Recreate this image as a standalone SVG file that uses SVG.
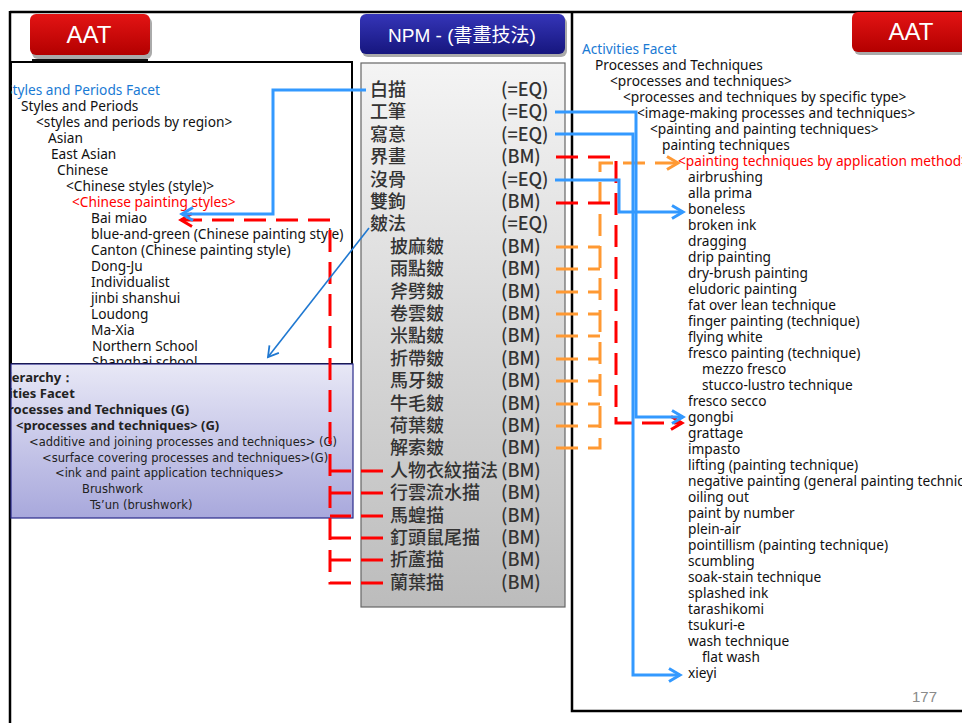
<svg xmlns="http://www.w3.org/2000/svg" width="962" height="723" viewBox="0 0 962 723">
<defs>
<style>
.frame{fill:none;stroke:#000;stroke-width:2.5}
.lt{font-family:"Noto Sans","Open Sans",sans-serif;font-size:13.7px;fill:#111}
.blue{fill:#1a7ad4}
.red{fill:#ff0000}
.pb{font-family:"Noto Sans","Open Sans",sans-serif;font-size:13px;font-weight:bold;fill:#222}
.pn{font-family:"DejaVu Sans",sans-serif;font-size:11.5px;fill:#222}
.npm{font-family:"Noto Sans CJK TC","Noto Sans CJK SC",sans-serif;font-size:18px;font-weight:500;fill:#333}
.btn{font-family:"Liberation Sans","Noto Sans CJK TC",sans-serif;fill:#fff}
.cb{fill:none;stroke:#3399ff;stroke-width:3}
.ct{fill:none;stroke:#1f78d1;stroke-width:1.6}
.cr{fill:none;stroke:#ff0000;stroke-width:3;stroke-dasharray:22 10}
.co{fill:none;stroke:#ff9933;stroke-width:3;stroke-dasharray:22 10}
</style>
<linearGradient id="gRed" x1="0" y1="0" x2="0" y2="1"><stop offset="0" stop-color="#e31414"/><stop offset="1" stop-color="#b30000"/></linearGradient>
<linearGradient id="gBlue" x1="0" y1="0" x2="0" y2="1"><stop offset="0" stop-color="#3535b8"/><stop offset="1" stop-color="#16167e"/></linearGradient>
<linearGradient id="gGray" x1="0" y1="0" x2="0" y2="1"><stop offset="0" stop-color="#f4f4f4"/><stop offset="1" stop-color="#bcbcbc"/></linearGradient>
<linearGradient id="gPur" x1="0" y1="0" x2="0" y2="1"><stop offset="0" stop-color="#e8e8f6"/><stop offset="1" stop-color="#a8a8dc"/></linearGradient>
<clipPath id="clipTop"><rect x="11" y="62" width="341" height="302"/></clipPath>
<clipPath id="clipPur"><rect x="11" y="364" width="342" height="154"/></clipPath>
<marker id="mB" markerUnits="userSpaceOnUse" markerWidth="16" markerHeight="16" refX="13" refY="8" orient="auto" overflow="visible"><path d="M2,1.5 L13,8 L2,14.5" fill="none" stroke="#3399ff" stroke-width="3"/></marker>
<marker id="mR" markerUnits="userSpaceOnUse" markerWidth="16" markerHeight="16" refX="13" refY="8" orient="auto" overflow="visible"><path d="M2,1.5 L13,8 L2,14.5" fill="none" stroke="#ff0000" stroke-width="3"/></marker>
<marker id="mO" markerUnits="userSpaceOnUse" markerWidth="16" markerHeight="16" refX="13" refY="8" orient="auto" overflow="visible"><path d="M2,1.5 L13,8 L2,14.5" fill="none" stroke="#ff9933" stroke-width="3"/></marker>
<marker id="mT" markerUnits="userSpaceOnUse" markerWidth="16" markerHeight="16" refX="12" refY="8" orient="auto" overflow="visible"><path d="M2,2 L12,8 L2,14" fill="none" stroke="#1f78d1" stroke-width="1.8"/></marker>
</defs>
<rect x="0" y="0" width="962" height="723" fill="#fff"/>

<!-- frames -->
<g id="frames">
<line x1="10" y1="12" x2="962" y2="12" stroke="#000" stroke-width="2.5"/>
<line x1="10" y1="11" x2="10" y2="723" stroke="#000" stroke-width="2.5"/>
<path d="M962,711 H572 V12" class="frame"/>
</g>

<!-- left AAT panel -->
<g id="aat-left">
<rect x="11" y="62" width="341" height="302" fill="#fff" stroke="#000" stroke-width="2"/>
<g clip-path="url(#clipTop)">
<g id="sp-facet"><text class="lt blue" x="5" y="95">Styles and Periods Facet</text></g>
<g id="sp"><text class="lt" x="21" y="111">Styles and Periods</text></g>
<g id="sp-region"><text class="lt" x="36" y="127">&lt;styles and periods by region&gt;</text></g>
<g id="asian"><text class="lt" x="48" y="143">Asian</text></g>
<g id="east-asian"><text class="lt" x="51" y="159">East Asian</text></g>
<g id="chinese"><text class="lt" x="57" y="175">Chinese</text></g>
<g id="chinese-styles"><text class="lt" x="66" y="191">&lt;Chinese styles (style)&gt;</text></g>
<g id="chinese-painting-styles"><text class="lt red" x="72" y="207">&lt;Chinese painting styles&gt;</text></g>
<g id="bai-miao"><text class="lt" x="91" y="223">Bai miao</text></g>
<g id="blue-and-green"><text class="lt" x="91" y="239">blue-and-green (Chinese painting style)</text></g>
<g id="canton"><text class="lt" x="91" y="255">Canton (Chinese painting style)</text></g>
<g id="dong-ju"><text class="lt" x="91" y="271">Dong-Ju</text></g>
<g id="individualist"><text class="lt" x="91" y="287">Individualist</text></g>
<g id="jinbi"><text class="lt" x="91" y="303">jinbi shanshui</text></g>
<g id="loudong"><text class="lt" x="91" y="319">Loudong</text></g>
<g id="ma-xia"><text class="lt" x="91" y="335">Ma-Xia</text></g>
<g id="northern"><text class="lt" x="92" y="351">Northern School</text></g>
<g id="shanghai"><text class="lt" x="92" y="367">Shanghai school</text></g>
</g>
</g>

<!-- purple hierarchy box -->
<g id="hierarchy-box">
<rect x="11" y="364" width="342" height="154" fill="url(#gPur)" stroke="#2a2a8a" stroke-width="1.2"/>
<g clip-path="url(#clipPur)">
<text class="pb" x="-2" y="382">Hierarchy：</text>
<text class="pb" x="-24" y="398">Activities Facet</text>
<text class="pb" x="0" y="414">Processes and Techniques (G)</text>
<text class="pb" x="16" y="430">&lt;processes and techniques&gt;  (G)</text>
<text class="pn" x="29" y="446">&lt;additive and joining processes and techniques&gt; (G)</text>
<text class="pn" x="42" y="462">&lt;surface covering processes and techniques&gt;(G)</text>
<text class="pn" x="55" y="477">&lt;ink and paint application techniques&gt;</text>
<text class="pn" x="82" y="493">Brushwork</text>
<text class="pn" x="90" y="509">Ts’un (brushwork)</text>
</g>
</g>

<!-- buttons -->
<g id="btn-aat-left">
<rect x="32" y="17" width="120" height="42" rx="6" fill="#555" opacity="0.5"/>
<rect x="30" y="14" width="120" height="41" rx="6" fill="url(#gRed)"/>
<line x1="32" y1="60" x2="148" y2="60" stroke="#111" stroke-width="2"/>
<text class="btn" x="89" y="43" font-size="24" text-anchor="middle">AAT</text>
</g>
<g id="btn-npm">
<rect x="362" y="17" width="205" height="40" rx="6" fill="#555" opacity="0.5"/>
<rect x="360" y="14" width="205" height="40" rx="6" fill="url(#gBlue)"/>
<text class="btn" x="462" y="42" font-size="19" text-anchor="middle">NPM  - (書畫技法)</text>
</g>
<g id="btn-aat-right">
<rect x="854" y="15" width="120" height="40" rx="6" fill="#555" opacity="0.5"/>
<rect x="852" y="12" width="120" height="40" rx="6" fill="url(#gRed)"/>
<text class="btn" x="911" y="40" font-size="24" text-anchor="middle">AAT</text>
</g>

<!-- NPM list -->
<g id="npm-panel">
<rect x="361" y="63" width="204" height="544" fill="url(#gGray)" stroke="#666" stroke-width="1.2"/>
<g id="n-baimiao"><text class="npm" x="370" y="96">白描</text><text class="npm" x="501" y="96">(=EQ)</text></g>
<g id="n-gongbi"><text class="npm" x="370" y="118.4">工筆</text><text class="npm" x="501" y="118.4">(=EQ)</text></g>
<g id="n-xieyi"><text class="npm" x="370" y="140.8">寫意</text><text class="npm" x="501" y="140.8">(=EQ)</text></g>
<g id="n-jiehua"><text class="npm" x="370" y="163.2">界畫</text><text class="npm" x="501" y="163.2">(BM)</text></g>
<g id="n-mogu"><text class="npm" x="370" y="185.6">沒骨</text><text class="npm" x="501" y="185.6">(=EQ)</text></g>
<g id="n-shuanggou"><text class="npm" x="370" y="208">雙鉤</text><text class="npm" x="501" y="208">(BM)</text></g>
<g id="n-cunfa"><text class="npm" x="370" y="230.4">皴法</text><text class="npm" x="501" y="230.4">(=EQ)</text></g>
<g id="n-c1"><text class="npm" x="390" y="252.8">披麻皴</text><text class="npm" x="501" y="252.8">(BM)</text></g>
<g id="n-c2"><text class="npm" x="390" y="275.2">雨點皴</text><text class="npm" x="501" y="275.2">(BM)</text></g>
<g id="n-c3"><text class="npm" x="390" y="297.6">斧劈皴</text><text class="npm" x="501" y="297.6">(BM)</text></g>
<g id="n-c4"><text class="npm" x="390" y="320">卷雲皴</text><text class="npm" x="501" y="320">(BM)</text></g>
<g id="n-c5"><text class="npm" x="390" y="342.4">米點皴</text><text class="npm" x="501" y="342.4">(BM)</text></g>
<g id="n-c6"><text class="npm" x="390" y="364.8">折帶皴</text><text class="npm" x="501" y="364.8">(BM)</text></g>
<g id="n-c7"><text class="npm" x="390" y="387.2">馬牙皴</text><text class="npm" x="501" y="387.2">(BM)</text></g>
<g id="n-c8"><text class="npm" x="390" y="409.6">牛毛皴</text><text class="npm" x="501" y="409.6">(BM)</text></g>
<g id="n-c9"><text class="npm" x="390" y="432">荷葉皴</text><text class="npm" x="501" y="432">(BM)</text></g>
<g id="n-c10"><text class="npm" x="390" y="454.4">解索皴</text><text class="npm" x="501" y="454.4">(BM)</text></g>
<g id="n-m1"><text class="npm" x="390" y="476.8">人物衣紋描法</text><text class="npm" x="501" y="476.8">(BM)</text></g>
<g id="n-m2"><text class="npm" x="390" y="499.2">行雲流水描</text><text class="npm" x="501" y="499.2">(BM)</text></g>
<g id="n-m3"><text class="npm" x="390" y="521.6">馬蝗描</text><text class="npm" x="501" y="521.6">(BM)</text></g>
<g id="n-m4"><text class="npm" x="390" y="544">釘頭鼠尾描</text><text class="npm" x="501" y="544">(BM)</text></g>
<g id="n-m5"><text class="npm" x="390" y="566.4">折蘆描</text><text class="npm" x="501" y="566.4">(BM)</text></g>
<g id="n-m6"><text class="npm" x="390" y="588.8">蘭葉描</text><text class="npm" x="501" y="588.8">(BM)</text></g>
</g>

<!-- right AAT panel -->
<g id="aat-right">
<g id="r-facet"><text class="lt blue" x="582" y="54">Activities Facet</text></g>
<g id="r-pt"><text class="lt" x="595" y="70">Processes and Techniques</text></g>
<g id="r-pt2"><text class="lt" x="610" y="86">&lt;processes and techniques&gt;</text></g>
<g id="r-spec"><text class="lt" x="623" y="102">&lt;processes and techniques by specific type&gt;</text></g>
<g id="r-img"><text class="lt" x="637" y="118">&lt;image-making processes and techniques&gt;</text></g>
<g id="r-paint"><text class="lt" x="650" y="134">&lt;painting and painting techniques&gt;</text></g>
<g id="r-ptech"><text class="lt" x="662" y="150">painting techniques</text></g>
<g id="r-appl"><text class="lt red" x="678" y="166">&lt;painting techniques by application method&gt;</text></g>
<g id="r-items">
<text class="lt" x="688" y="182">airbrushing</text>
<text class="lt" x="688" y="198">alla prima</text>
<text id="r-boneless" class="lt" x="688" y="214">boneless</text>
<text class="lt" x="688" y="230">broken ink</text>
<text class="lt" x="688" y="246">dragging</text>
<text class="lt" x="688" y="262">drip painting</text>
<text class="lt" x="688" y="278">dry-brush painting</text>
<text class="lt" x="688" y="294">eludoric painting</text>
<text class="lt" x="688" y="310">fat over lean technique</text>
<text class="lt" x="688" y="326">finger painting (technique)</text>
<text class="lt" x="688" y="342">flying white</text>
<text class="lt" x="688" y="358">fresco painting (technique)</text>
<text class="lt" x="702" y="374">mezzo fresco</text>
<text class="lt" x="702" y="390">stucco-lustro technique</text>
<text class="lt" x="688" y="406">fresco secco</text>
<text id="r-gongbi" class="lt" x="688" y="422">gongbi</text>
<text class="lt" x="688" y="438">grattage</text>
<text class="lt" x="688" y="454">impasto</text>
<text class="lt" x="688" y="470">lifting (painting technique)</text>
<text class="lt" x="688" y="486">negative painting (general painting technique)</text>
<text class="lt" x="688" y="502">oiling out</text>
<text class="lt" x="688" y="518">paint by number</text>
<text class="lt" x="688" y="534">plein-air</text>
<text class="lt" x="688" y="550">pointillism (painting technique)</text>
<text class="lt" x="688" y="566">scumbling</text>
<text class="lt" x="688" y="582">soak-stain technique</text>
<text class="lt" x="688" y="598">splashed ink</text>
<text class="lt" x="688" y="614">tarashikomi</text>
<text class="lt" x="688" y="630">tsukuri-e</text>
<text class="lt" x="688" y="646">wash technique</text>
<text class="lt" x="702" y="662">flat wash</text>
<text id="r-xieyi" class="lt" x="688" y="678">xieyi</text>
</g>
<text x="912" y="702" font-family="Liberation Sans,sans-serif" font-size="15" fill="#8a8a8a">177</text>
</g>

<!-- connectors -->
<g id="connectors">
<path class="cr" d="M383,583 H330 V220 H181" marker-end="url(#mR)"/>
<path class="cr" d="M383,471 H330"/>
<path class="cr" d="M383,493 H330"/>
<path class="cr" d="M383,516 H330"/>
<path class="cr" d="M383,538 H330"/>
<path class="cr" d="M383,560 H330"/>
<path class="cb" d="M366,90 H273 V214 H182" marker-end="url(#mB)"/>
<path class="ct" d="M369,228 L268,357" marker-end="url(#mT)"/>
<path class="co" d="M556,448 H600 V163 H678" marker-end="url(#mO)"/>
<path class="co" d="M556,247 H600"/>
<path class="co" d="M556,269 H600"/>
<path class="co" d="M556,292 H600"/>
<path class="co" d="M556,314 H600"/>
<path class="co" d="M556,336 H600"/>
<path class="co" d="M556,359 H600"/>
<path class="co" d="M556,381 H600"/>
<path class="co" d="M556,404 H600"/>
<path class="co" d="M556,426 H600"/>
<path class="cr" d="M556,157 H616 V423 H682" marker-end="url(#mR)"/>
<path class="cr" d="M556,203 H616"/>
<path class="cb" d="M555,134 H633 V675 H680" marker-end="url(#mB)"/>
<path class="cb" d="M555,112 H636 V417 H683" marker-end="url(#mB)"/>
<path class="cb" d="M555,180 H619 V212 H683" marker-end="url(#mB)"/>
</g>
</svg>
